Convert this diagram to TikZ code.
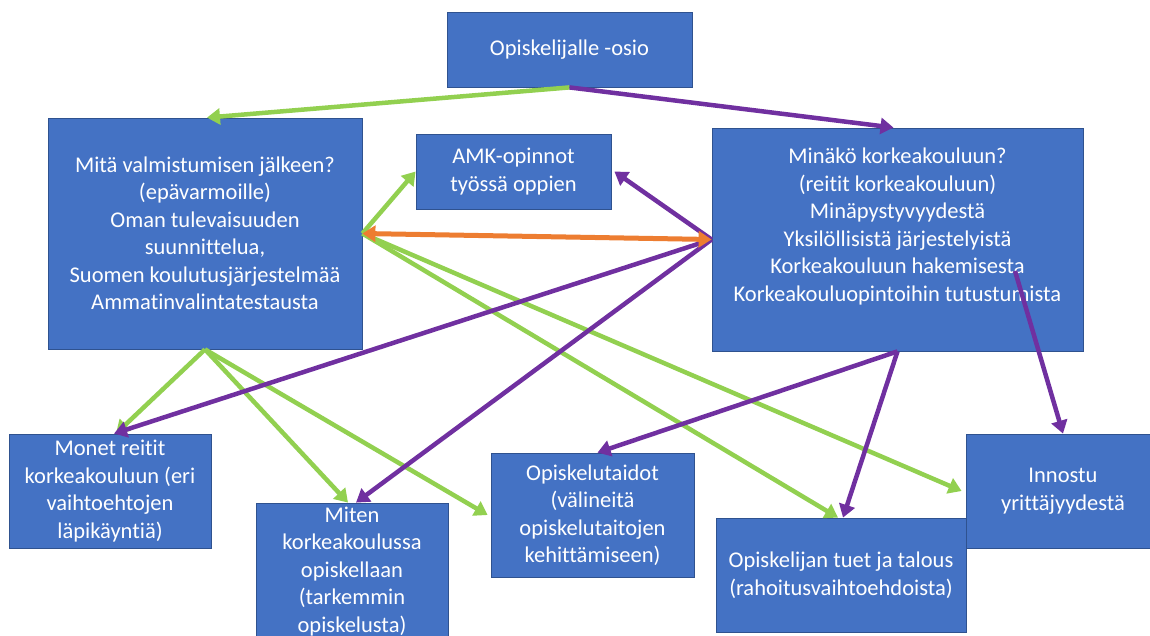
\documentclass[tikz,border=0pt]{standalone}
\usepackage{fontspec}
\setmainfont{Carlito}[Ligatures=NoCommon]
\usetikzlibrary{arrows.meta}
\definecolor{boxblue}{HTML}{4472C4}
\definecolor{boxedge}{HTML}{2F528F}
\definecolor{vihrea}{HTML}{92D050}
\definecolor{violetti}{HTML}{7030A0}
\definecolor{oranssi}{HTML}{ED7D31}
\newcommand{\boxfont}{\fontsize{22.5}{27.5}\selectfont}
\tikzset{
  box/.style={draw=boxedge, line width=0.8pt, fill=boxblue, text=white,
    align=center, inner sep=0pt, font=\boxfont},
  boxtext/.style={text=white, align=center, inner sep=0pt, font=\boxfont},
  greenline/.style={draw=vihrea, line width=4.5pt, ->},
  purpleline/.style={draw=violetti, line width=4.5pt, ->},
  orangeline/.style={draw=oranssi, line width=5pt, <->},
}
\begin{document}
\begin{tikzpicture}[x=1pt,y=-1pt,>={Triangle[width=16pt,length=13pt]}]
        \useasboundingbox (0,0) rectangle (1150,635);
        % laatikot
        \node[box, minimum width=245, minimum height=75] (osio) at (569.5,49.5) {Opiskelijalle -osio};
        \node[box, minimum width=314, minimum height=231] (valm) at (205,233.5)
            {Mitä valmistumisen jälkeen?\\(epävarmoille)\\Oman tulevaisuuden\\suunnittelua,\\Suomen koulutusjärjestelmää\\Ammatinvalintatestausta};
        \node[box, minimum width=195, minimum height=75] (amk) at (513.5,171.5) {AMK-opinnot\\työssä oppien};
        \node[box, minimum width=371, minimum height=223] (mina) at (897.5,239.5) {};
        \node[boxtext] (minatxt) at (897.5,226.5)
            {Minäkö korkeakouluun?\\(reitit korkeakouluun)\\Minäpystyvyydestä\\Yksilöllisistä järjestelyistä\\Korkeakouluun hakemisesta\\Korkeakouluopintoihin tutustumista};
        \node[box, minimum width=202, minimum height=114] (monet) at (110,491) {Monet reitit\\korkeakouluun (eri\\vaihtoehtojen\\läpikäyntiä)};
        \node[box, minimum width=192, minimum height=137] (miten) at (352,571.5) {Miten\\korkeakoulussa\\opiskellaan\\(tarkemmin\\opiskelusta)};
        \node[box, minimum width=203, minimum height=124] (taidot) at (592.5,515) {Opiskelutaidot\\(välineitä\\opiskelutaitojen\\kehittämiseen)};
        \node[box, minimum width=250, minimum height=114] (tuet) at (841,575) {Opiskelijan tuet ja talous\\(rahoitusvaihtoehdoista)};
        \node[box, minimum width=194, minimum height=114] (innostu) at (1063,491) {Innostu\\yrittäjyydestä};
        \coordinate (yrit) at (1015,271);
        % vihreat nuolet
        \draw[greenline] (osio.south) -- ([xshift=2pt]valm.north);
        \draw[greenline] (valm.east) -- (amk.west);
        \draw[greenline] (valm.east) -- ([xshift=-3pt]tuet.north);
        \draw[greenline] (valm.east) -- ([xshift=-4pt]innostu.west);
        \draw[greenline] (valm.south) -- ([xshift=6pt]monet.north);
        \draw[greenline] (valm.south) -- ([xshift=-4pt]miten.north);
        \draw[greenline] (valm.south) -- ([xshift=-3pt]taidot.west);
        % violetit nuolet
        \draw[purpleline] (osio.south) -- ([xshift=-4pt]mina.north);
        \draw[purpleline] (mina.west) -- ([xshift=3pt]amk.east);
        \draw[purpleline] (mina.west) -- ([xshift=4pt]monet.north);
        \draw[purpleline] (mina.west) -- ([xshift=4pt]miten.north);
        \draw[purpleline] (mina.south) -- ([xshift=5pt]taidot.north);
        \draw[purpleline] (mina.south) -- ([xshift=2pt]tuet.north);
        \draw[purpleline] (yrit) -- (innostu.north);
        % oranssi nuoli
        \draw[orangeline] (valm.east) -- (mina.west);
\end{tikzpicture}
\end{document}
